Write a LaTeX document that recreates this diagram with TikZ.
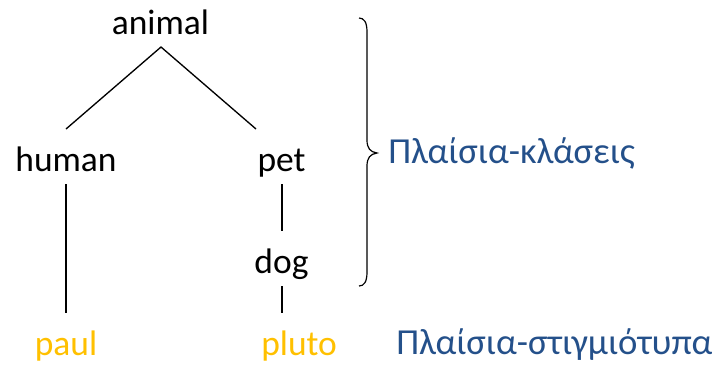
\documentclass[tikz,border=0pt]{standalone}
\usepackage{fontspec}
\setmainfont{Carlito}
\definecolor{grblue}{HTML}{24508A}
\definecolor{gold}{HTML}{FFC000}
\begin{document}
\begin{tikzpicture}[x=0.75pt,y=-0.75pt,
  lbl/.style={inner sep=0pt,anchor=base,font=\fontsize{26.6pt}{30pt}\selectfont},
  inst/.style={lbl,text=gold},
  note/.style={lbl,anchor=base west,text=grblue,font=\fontsize{27.5pt}{31pt}\selectfont},
  edge/.style={line width=1pt,black},
  bracepath/.style={line width=0.9pt,black}]
\useasboundingbox (0,0) rectangle (712,365);
% nodes
\node[lbl] (animal) at (160.5,34) {animal};
\node[lbl] (human) at (66,171) {human};
\node[lbl] (pet) at (281.5,171) {pet};
\node[lbl] (dog) at (281.5,273) {dog};
\node[inst] (paul) at (66,355) {paul};
\node[inst,anchor=base west] (pluto) at (261,355) {pluto};
\node[note] (classes) at (388,163) {Πλαίσια-κλάσεις};
\node[note] (instances) at (396,354) {Πλαίσια-στιγμιότυπα};
% connector end points
\path (animal.base) ++(0.5,13) coordinate (aB);
\path (human.base) ++(0,-42) coordinate (hT);
\path (human.base) ++(0,13) coordinate (hB);
\path (pet.base) ++(-25.5,-42) coordinate (pT);
\path (pet.base) ++(0.5,13) coordinate (pB);
\path (dog.base) ++(0.5,-42) coordinate (dT);
\path (dog.base) ++(0.5,13) coordinate (dB);
\path (paul.base) ++(0,-42) coordinate (paT);
\path (dB) ++(0,27) coordinate (plT);
% connectors
\draw[edge] (hT) -- (aB) -- (pT);
\draw[edge] (hB) -- (paT);
\draw[edge] (pB) -- (dT);
\draw[edge] (dB) -- (plT);
% brace
\coordinate (brTop) at (359,18);
\coordinate (brTip) at (377,153);
\coordinate (brBot) at (359,286);
\draw[bracepath] (brTop) .. controls (364,18) and (367,22) .. (367,32)
  -- (367,140) .. controls (367,148) and (370,152) .. (brTip)
  .. controls (370,154) and (367,158) .. (367,166)
  -- (367,272) .. controls (367,282) and (364,286) .. (brBot);
\end{tikzpicture}
\end{document}
